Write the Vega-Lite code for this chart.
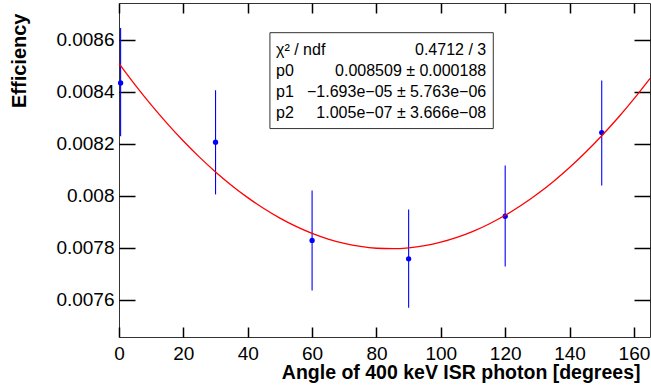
{
  "$schema": "https://vega.github.io/schema/vega-lite/v6.json",
  "autosize": "none",
  "width": 531,
  "height": 334,
  "padding": {"left": 119, "top": 3, "right": 1, "bottom": 51},
  "background": "white",
  "config": {
    "font": "Liberation Sans",
    "view": {"stroke": "#333333", "strokeWidth": 1},
    "axis": {"labelFont": "Liberation Sans", "titleFont": "Liberation Sans", "labelColor": "black", "titleColor": "black", "grid": false, "domain": false}
  },
  "datasets": {
    "points": [
      {"angle": 0.5, "eff": 0.008434, "lo": 0.008229, "hi": 0.008646},
      {"angle": 30, "eff": 0.008206, "lo": 0.008005, "hi": 0.008406},
      {"angle": 60, "eff": 0.007828, "lo": 0.007635, "hi": 0.008020},
      {"angle": 90, "eff": 0.007757, "lo": 0.007569, "hi": 0.007947},
      {"angle": 120, "eff": 0.007921, "lo": 0.007727, "hi": 0.008116},
      {"angle": 150, "eff": 0.008243, "lo": 0.008039, "hi": 0.008444}
    ],
    "fit": [
      {"angle": 0, "eff": 0.008509},
      {"angle": 5, "eff": 0.0084269},
      {"angle": 10, "eff": 0.0083498},
      {"angle": 15, "eff": 0.0082777},
      {"angle": 20, "eff": 0.0082106},
      {"angle": 25, "eff": 0.0081486},
      {"angle": 30, "eff": 0.0080916},
      {"angle": 35, "eff": 0.0080396},
      {"angle": 40, "eff": 0.0079926},
      {"angle": 45, "eff": 0.0079507},
      {"angle": 50, "eff": 0.0079138},
      {"angle": 55, "eff": 0.0078819},
      {"angle": 60, "eff": 0.007855},
      {"angle": 65, "eff": 0.0078332},
      {"angle": 70, "eff": 0.0078164},
      {"angle": 75, "eff": 0.0078046},
      {"angle": 80, "eff": 0.0077978},
      {"angle": 85, "eff": 0.0077961},
      {"angle": 90, "eff": 0.0077994},
      {"angle": 95, "eff": 0.0078077},
      {"angle": 100, "eff": 0.007821},
      {"angle": 105, "eff": 0.0078394},
      {"angle": 110, "eff": 0.0078628},
      {"angle": 115, "eff": 0.0078912},
      {"angle": 120, "eff": 0.0079246},
      {"angle": 125, "eff": 0.0079631},
      {"angle": 130, "eff": 0.0080066},
      {"angle": 135, "eff": 0.0080551},
      {"angle": 140, "eff": 0.0081086},
      {"angle": 145, "eff": 0.0081672},
      {"angle": 150, "eff": 0.0082308},
      {"angle": 155, "eff": 0.0082994},
      {"angle": 160, "eff": 0.008373},
      {"angle": 165, "eff": 0.0084517}
    ],
    "one": [{}]
  },
  "resolve": {"axis": {"x": "independent", "y": "independent"}},
  "layer": [
    {
      "data": {"name": "points"},
      "mark": {"type": "rule", "color": "#0000ff", "strokeWidth": 1.1},
      "encoding": {
        "x": {
          "field": "angle", "type": "quantitative",
          "scale": {"domain": [0, 165], "nice": false, "zero": false},
          "axis": {
            "orient": "bottom",
            "values": [0,20,40,60,80,100,120,140,160],
            "ticks": true, "tickColor": "black", "tickWidth": 1.5,
            "offset": -10,
            "tickSize": 10,
            "labelFontSize": 19,
            "labelPadding": 7,
            "labelFlush": false,
            "title": "Angle of 400 keV ISR photon [degrees]",
            "titleFontSize": 19.5,
            "titleFontWeight": "bold",
            "titleAlign": "right",
            "titleAnchor": "end",
            "titleBaseline": "alphabetic",
            "titleX": 521,
            "titleY": 51
          }
        },
        "y": {
          "field": "lo", "type": "quantitative",
          "scale": {"domain": [0.007456, 0.008742], "nice": false, "zero": false},
          "axis": {
            "orient": "left",
            "values": [0.0076,0.0078,0.008,0.0082,0.0084,0.0086],
            "format": "~g",
            "ticks": true, "tickColor": "black", "tickWidth": 1.5,
            "offset": -16,
            "tickSize": 16,
            "labelFontSize": 19,
            "labelPadding": 5,
            "labelFlush": false,
            "title": "Efficiency",
            "titleFontSize": 20,
            "titleFontWeight": "bold",
            "titleAngle": -90,
            "titleAlign": "right",
            "titleBaseline": "bottom",
            "titleAnchor": "end",
            "titleX": -106,
            "titleY": 10
          }
        },
        "y2": {"field": "hi"}
      }
    },
    {
      "data": {"name": "points"},
      "mark": {"type": "circle", "color": "#0000ff", "opacity": 1, "size": 28},
      "encoding": {
        "x": {"field": "angle", "type": "quantitative", "axis": null},
        "y": {"field": "eff", "type": "quantitative", "axis": null}
      }
    },
    {
      "data": {"name": "fit"},
      "mark": {"type": "line", "color": "#ff0000", "strokeWidth": 1.3, "interpolate": "monotone"},
      "encoding": {
        "x": {"field": "angle", "type": "quantitative",
          "axis": {"orient": "top", "values": [0,20,40,60,80,100,120,140,160], "ticks": true, "tickColor": "black", "tickWidth": 1.5, "tickSize": -10, "labels": false, "title": null}},
        "y": {"field": "eff", "type": "quantitative",
          "axis": {"orient": "right", "values": [0.0076,0.0078,0.008,0.0082,0.0084,0.0086], "ticks": true, "tickColor": "black", "tickWidth": 1.5, "tickSize": -16, "labels": false, "title": null}}
      }
    },
    {
      "data": {"name": "one"},
      "mark": {"type": "rect", "fill": "white", "stroke": "#333333", "strokeWidth": 1},
      "encoding": {
        "x": {"datum": 46.9, "type": "quantitative", "axis": null},
        "x2": {"datum": 116.3},
        "y": {"datum": 0.0086277, "type": "quantitative", "axis": null},
        "y2": {"datum": 0.0082585}
      }
    },
    {
      "data": {"name": "one"},
      "mark": {"type": "text", "align": "left", "baseline": "middle", "fontSize": 16, "lineHeight": 21, "color": "black",
        "text": ["χ² / ndf", "p0", "p1", "p2"]},
      "encoding": {
        "x": {"datum": 48.8, "type": "quantitative", "axis": null},
        "y": {"datum": 0.0085596, "type": "quantitative", "axis": null}
      }
    },
    {
      "data": {"name": "one"},
      "mark": {"type": "text", "align": "right", "baseline": "middle", "fontSize": 16, "lineHeight": 21, "color": "black",
        "text": ["0.4712 / 3", "0.008509 ± 0.000188", "−1.693e−05 ± 5.763e−06", "1.005e−07 ± 3.666e−08"]},
      "encoding": {
        "x": {"datum": 114.1, "type": "quantitative", "axis": null},
        "y": {"datum": 0.0085596, "type": "quantitative", "axis": null}
      }
    }
  ]
}
